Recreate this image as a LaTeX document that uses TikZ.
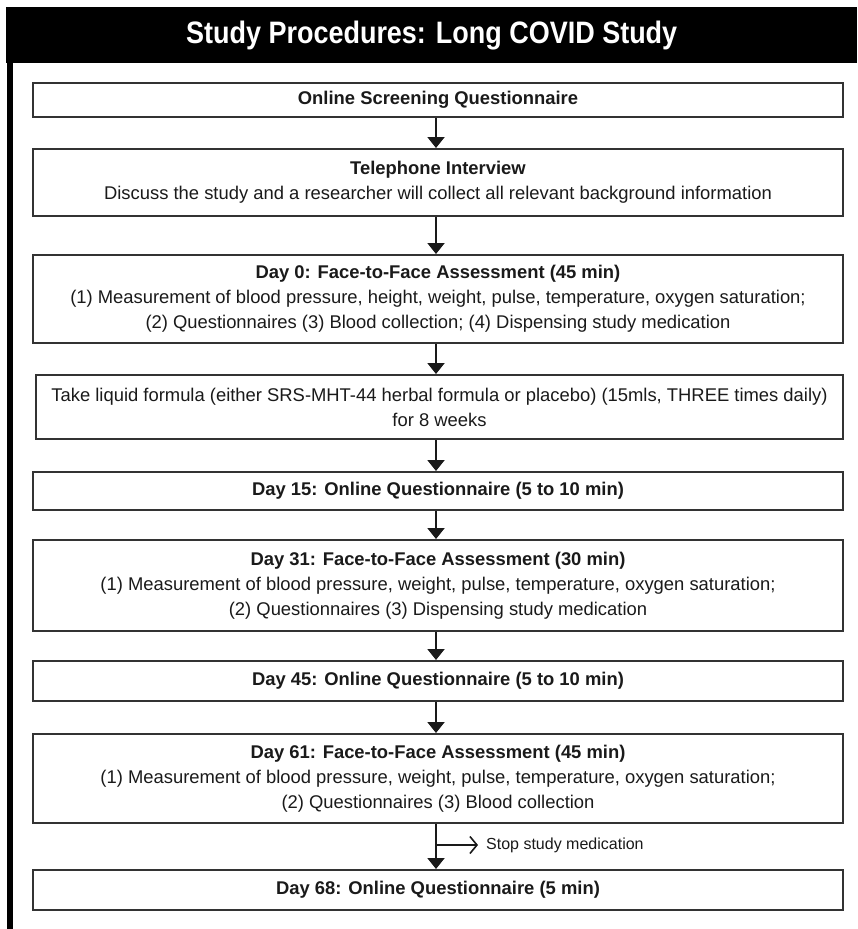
\documentclass[tikz,border=0pt]{standalone}
\usepackage{fontspec}
\setmainfont{Liberation Sans}
\newfontfamily\titlefont{Liberation Sans}[FakeStretch=0.87]
\usetikzlibrary{arrows.meta}
\definecolor{ink}{HTML}{1A1A1A}
\definecolor{edge}{HTML}{333333}
\tikzset{
  stepbox/.style={draw=edge, line width=2pt, fill=white, inner sep=0pt,
    minimum width=810pt, align=center, text=ink,
    font=\fontsize{18.4}{25}\selectfont},
  flow/.style={draw=ink, line width=2pt, -{Triangle[width=17pt,length=11pt]}},
  sidearrow/.style={draw=ink, line width=1.6pt, -{Straight Barb[length=7pt,width=17pt,line width=1.6pt]}, shorten >=8pt},
}
\begin{document}
\begin{tikzpicture}[x=1pt,y=-1pt]
\useasboundingbox[fill=white] (0,0) rectangle (857,929);
% title bar and left rule
\node[fill=black, anchor=north west, minimum width=851pt, minimum height=56pt, inner sep=0pt,
  text=white, font=\titlefont\fontsize{31}{36}\selectfont\bfseries] (title) at (6,7)
  {Study Procedures: Long COVID Study};
\fill[black] (7,60) rectangle (13,929);
\coordinate (ax) at (436,0);
% boxes
\node[stepbox, minimum height=34pt] (b1) at (438,100) {\textbf{Online Screening Questionnaire}};
\node[stepbox, minimum height=67pt] (b2) at (438,182.5) {\textbf{Telephone Interview}\\
  Discuss the study and a researcher will collect all relevant background information};
\node[stepbox, minimum height=88pt] (b3) at (438,299) {\textbf{Day 0: Face-to-Face Assessment (45 min)}\\
  (1) Measurement of blood pressure, height, weight, pulse, temperature, oxygen saturation;\\
  (2) Questionnaires (3) Blood collection; (4) Dispensing study medication};
\node[stepbox, minimum height=64pt, minimum width=807pt] (b4) at (439.5,407) {Take liquid formula (either SRS-MHT-44 herbal formula or placebo) (15mls, THREE times daily)\\
  for 8 weeks};
\node[stepbox, minimum height=38pt] (b5) at (438,491) {\textbf{Day 15: Online Questionnaire (5 to 10 min)}};
\node[stepbox, minimum height=91pt] (b6) at (438,585.5) {\textbf{Day 31: Face-to-Face Assessment (30 min)}\\
  (1) Measurement of blood pressure, weight, pulse, temperature, oxygen saturation;\\
  (2) Questionnaires (3) Dispensing study medication};
\node[stepbox, minimum height=40pt] (b7) at (438,681) {\textbf{Day 45: Online Questionnaire (5 to 10 min)}};
\node[stepbox, minimum height=89pt] (b8) at (438,778.5) {\textbf{Day 61: Face-to-Face Assessment (45 min)}\\
  (1) Measurement of blood pressure, weight, pulse, temperature, oxygen saturation;\\
  (2) Questionnaires (3) Blood collection};
\node[stepbox, minimum height=40pt] (b9) at (438,890) {\textbf{Day 68: Online Questionnaire (5 min)}};
% connectors
\draw[flow] (b1.south -| ax) -- (b2.north -| ax);
\draw[flow] (b2.south -| ax) -- (b3.north -| ax);
\draw[flow] (b3.south -| ax) -- (b4.north -| ax);
\draw[flow] (b4.south -| ax) -- (b5.north -| ax);
\draw[flow] (b5.south -| ax) -- (b6.north -| ax);
\draw[flow] (b6.south -| ax) -- (b7.north -| ax);
\draw[flow] (b7.south -| ax) -- (b8.north -| ax);
\draw[flow] (b8.south -| ax) -- (b9.north -| ax);
% side note
\coordinate (sb) at (436,845);
\node[anchor=west, inner sep=0pt, text=ink, font=\fontsize{16}{19}\selectfont] (stop) at (486,845) {Stop study medication};
\draw[sidearrow] (sb) -- (stop.west);
\end{tikzpicture}
\end{document}
